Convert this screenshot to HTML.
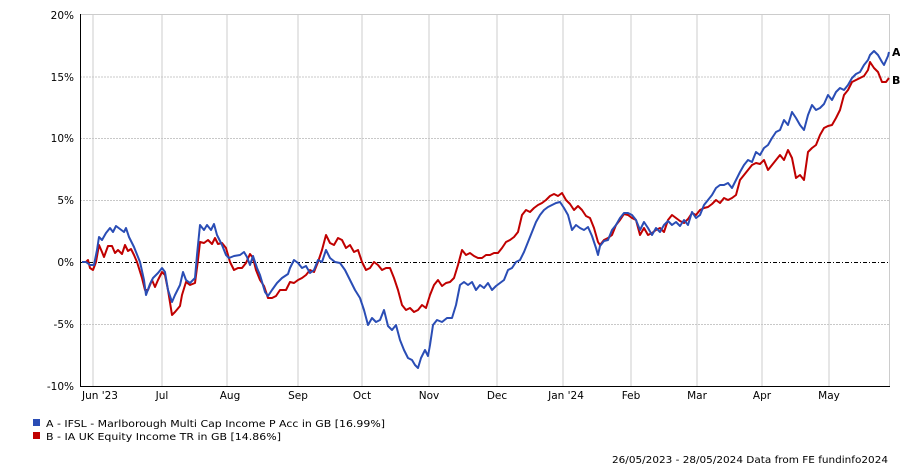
<!DOCTYPE html>
<html><head><style>
body{margin:0;background:#fff;}
svg{display:block;font-family:"DejaVu Sans","Liberation Sans",sans-serif;}
</style></head><body>
<svg width="900" height="467" xmlns="http://www.w3.org/2000/svg">
<g stroke="#cccccc" stroke-width="1">
<line x1="93" y1="14" x2="93" y2="386"/><line x1="162" y1="14" x2="162" y2="386"/>
<line x1="227" y1="14" x2="227" y2="386"/><line x1="298" y1="14" x2="298" y2="386"/>
<line x1="362" y1="14" x2="362" y2="386"/><line x1="429" y1="14" x2="429" y2="386"/>
<line x1="497" y1="14" x2="497" y2="386"/><line x1="563" y1="14" x2="563" y2="386"/>
<line x1="631" y1="14" x2="631" y2="386"/><line x1="697" y1="14" x2="697" y2="386"/>
<line x1="762" y1="14" x2="762" y2="386"/><line x1="829" y1="14" x2="829" y2="386"/>
<line x1="80" y1="14.5" x2="889.5" y2="14.5"/><line x1="889.5" y1="14" x2="889.5" y2="386"/>
</g>
<g stroke="#c8c8c8" stroke-width="1" stroke-dasharray="2,1">
<line x1="80" y1="77" x2="889" y2="77"/><line x1="80" y1="138.5" x2="889" y2="138.5"/>
<line x1="80" y1="200.5" x2="889" y2="200.5"/><line x1="80" y1="324.5" x2="889" y2="324.5"/>
</g>
<line x1="80" y1="262.5" x2="889" y2="262.5" stroke="#000" stroke-width="1" stroke-dasharray="4,2,1,2"/>
<line x1="80.5" y1="14" x2="80.5" y2="386.5" stroke="#000"/>
<line x1="80" y1="386.5" x2="890" y2="386.5" stroke="#000"/>
<g font-size="10.5" fill="#000" text-anchor="end">
<text x="74" y="19">20%</text><text x="74" y="81">15%</text><text x="74" y="142">10%</text>
<text x="74" y="204">5%</text><text x="74" y="266">0%</text><text x="74" y="328">-5%</text><text x="74" y="390">-10%</text>
</g>
<g font-size="10.5" fill="#000" text-anchor="middle">
<text x="100" y="399">Jun '23</text><text x="162" y="399">Jul</text><text x="230" y="399">Aug</text>
<text x="298" y="399">Sep</text><text x="362" y="399">Oct</text><text x="429" y="399">Nov</text>
<text x="497" y="399">Dec</text><text x="566" y="399">Jan '24</text><text x="631" y="399">Feb</text>
<text x="697" y="399">Mar</text><text x="762" y="399">Apr</text><text x="829" y="399">May</text>
</g>
<polyline fill="none" stroke="#c00000" stroke-width="2" stroke-linejoin="round" points="82,262 86,262 88,260 90,268 93,270 96,262 99,245 102,252 104,257 108,246 112,246 115,253 118,250 122,254 125,245 128,251 131,249 134,255 137,262 142,278 145,290 148,290 152,280 155,287 158,280 162,272 165,275 168,290 172,315 175,312 180,306 182,295 186,282 190,285 195,283 198,260 200,242 204,243 208,240 212,244 215,238 218,244 222,243 226,248 230,262 234,270 238,268 242,268 246,263 250,254 253,258 256,270 260,280 264,286 268,298 272,298 276,296 280,290 286,290 290,282 294,283 298,280 302,278 306,275 310,270 314,272 318,262 322,250 326,235 330,243 334,245 338,238 342,240 346,248 350,245 354,252 358,250 362,262 366,270 370,268 374,262 378,265 382,270 386,268 390,268 394,278 398,290 402,305 406,310 410,308 414,312 418,310 422,305 426,308 430,295 434,285 438,280 442,286 446,283 450,282 454,278 458,265 462,250 466,255 470,253 474,256 478,258 482,258 486,255 490,255 494,253 498,253 502,248 506,242 510,240 514,237 518,232 522,215 526,210 530,212 534,208 538,205 542,203 546,200 550,196 554,194 558,196 562,193 566,200 570,204 574,210 578,206 582,210 586,216 590,218 594,228 598,242 600,245 604,240 608,238 612,235 616,225 620,220 624,214 628,215 632,218 636,220 640,235 644,228 648,235 652,233 656,230 660,228 664,232 668,220 672,215 676,218 680,221 684,223 688,219 692,213 696,215 700,210 704,208 708,207 712,204 716,200 720,203 724,198 728,200 732,198 736,195 740,180 744,175 748,170 752,165 756,163 760,164 764,160 768,170 772,165 776,160 780,155 784,160 788,150 792,158 796,178 800,175 804,180 808,152 812,148 816,145 820,135 824,128 828,126 832,125 836,118 840,110 844,95 848,90 852,82 856,80 860,78 864,76 868,70 870,62 874,68 878,72 882,82 886,82 889,78"/>
<polyline fill="none" stroke="#2a4db5" stroke-width="2" stroke-linejoin="round" points="82,262 86,262 90,265 94,265 97,250 99,237 102,240 106,233 110,228 113,232 116,226 120,229 124,232 126,228 129,237 134,247 140,262 144,280 146,295 150,284 153,278 158,273 162,268 165,272 168,290 172,302 175,295 180,285 183,272 186,280 190,283 195,278 197,255 200,225 204,230 207,225 211,230 214,224 217,235 222,245 226,255 229,258 234,256 240,255 244,252 247,257 250,265 253,256 257,268 260,275 265,292 268,296 272,290 277,283 282,278 288,274 290,268 294,260 298,263 302,268 306,266 310,273 314,270 318,260 322,262 326,250 330,258 335,262 340,263 345,270 350,280 355,290 360,298 364,310 368,325 372,318 376,322 380,320 384,310 388,326 392,330 396,325 400,340 404,350 408,358 412,360 415,365 418,368 421,358 425,350 428,356 430,345 433,325 437,320 442,322 447,318 452,318 456,305 460,285 464,282 468,285 472,282 476,290 480,285 484,288 488,283 492,290 496,286 500,283 504,280 508,270 512,268 516,262 520,260 524,252 528,242 532,232 536,222 540,215 544,210 548,207 552,205 556,203 560,202 564,208 568,215 572,230 576,225 580,228 584,230 588,227 592,236 596,248 598,255 600,246 604,241 608,240 612,230 616,225 620,218 624,213 628,213 632,215 636,220 640,230 644,222 648,228 652,235 656,228 660,232 664,225 668,221 672,225 676,222 680,226 684,220 688,225 692,212 696,218 700,215 704,205 708,200 712,195 716,188 720,185 724,185 728,183 732,188 736,180 740,172 744,165 748,160 752,162 756,152 760,155 764,148 768,145 772,138 776,132 780,130 784,120 788,125 792,112 796,118 800,125 804,130 808,115 812,105 816,110 820,108 824,104 828,95 832,100 836,92 840,88 844,90 848,85 852,78 856,74 860,72 864,65 868,60 870,55 874,51 878,55 882,62 884,65 888,56 889,52"/>
<text x="892" y="56" font-size="11" font-weight="bold">A</text>
<text x="892" y="84" font-size="11" font-weight="bold">B</text>
<rect x="33" y="419" width="7" height="7" fill="#2a4db5"/>
<rect x="33" y="432" width="7" height="7" fill="#c00000"/>
<g font-size="10" fill="#000">
<text x="46" y="427" textLength="339" lengthAdjust="spacingAndGlyphs">A - IFSL - Marlborough Multi Cap Income P Acc in GB [16.99%]</text>
<text x="46" y="440" textLength="235" lengthAdjust="spacingAndGlyphs">B - IA UK Equity Income TR in GB [14.86%]</text>
<text x="612" y="463" textLength="276" lengthAdjust="spacingAndGlyphs">26/05/2023 - 28/05/2024 Data from FE fundinfo2024</text>
</g>
</svg>
</body></html>
